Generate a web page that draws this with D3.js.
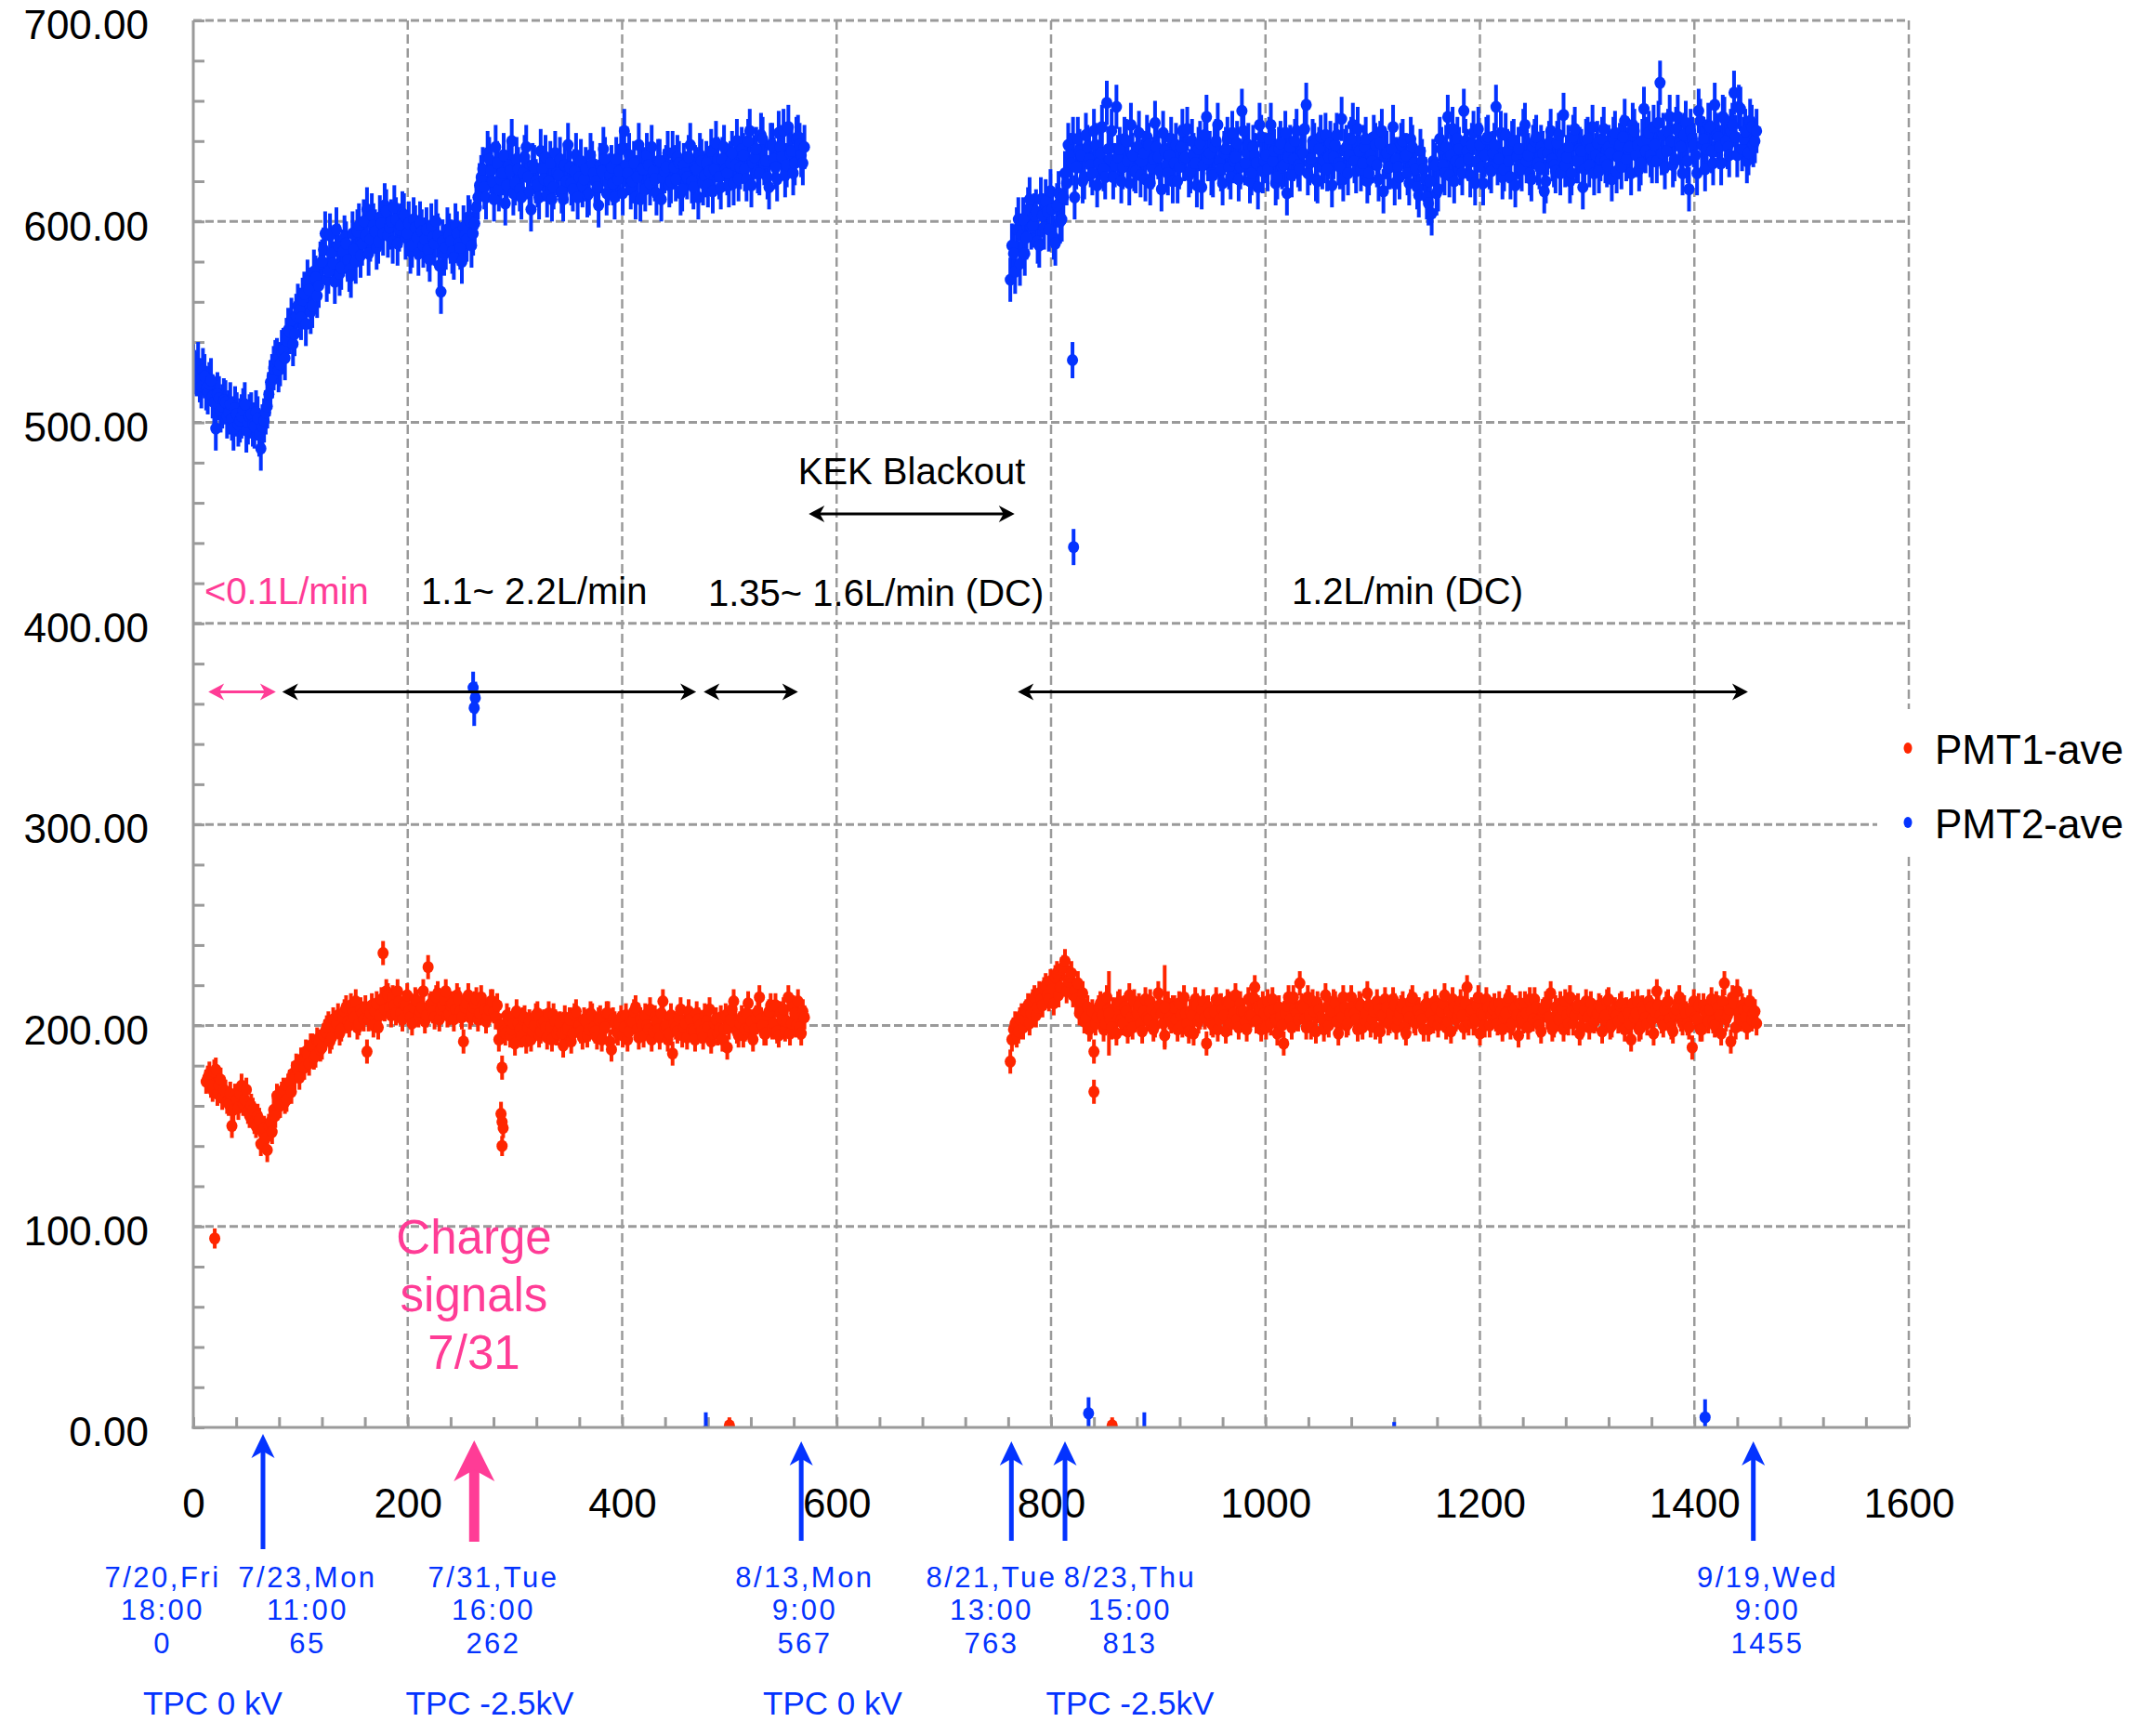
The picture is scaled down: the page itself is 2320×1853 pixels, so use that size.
<!DOCTYPE html>
<html>
<head>
<meta charset="utf-8">
<script src="https://cdn.jsdelivr.net/npm/d3@7"></script>
<style>
  html, body { margin: 0; padding: 0; background: #fff; }
  svg { display: block; }
  text { font-family: "Liberation Sans", Arial, Helvetica, sans-serif; }
</style>
</head>
<body>
<svg id="chart" width="2320" height="1853"></svg>
<script>
// Hours counted from 7/20 (Fri) 18:00. Averages come every 1.5 h; each run is
// listed as two interleaved lists (readings on the 3 h grid, and the ones 1.5 h later).
const sampleStep = 3;

// PMT2-ave, first running period
const pmt2FirstStart = 0;
const pmt2First = [
  528,524,521,526,517,519,513,497,512,508,
  510,505,502,507,499,503,509,500,504,498,
  502,487,501,508,520,527,531,529,536,541,
  545,539,553,556,561,549,566,558,572,568,
  580,594,575,584,570,588,577,592,581,573,
  586,595,583,600,606,591,598,587,602,594,
  605,597,590,601,596,604,592,599,588,597,
  584,595,591,586,598,589,593,565,584,596,
  590,582,594,587,597,591,600,594,607,618,
  626,612,631,620,637,616,624,609,628,640,
  619,626,612,632,622,606,627,618,635,621,
  613,629,617,624,631,611,620,627,616,633,
  622,618,626,614,629,620,608,625,631,619,
  627,612,621,636,645,624,617,629,622,611,
  626,633,619,625,614,630,622,627,618,634,
  621,629,616,624,632,620,627,612,630,623,
  618,635,626,631,617,637,624,629,619,640,
  627,633,621,645,629,636,624,641,630,617,
  638,627,644,632,623,647,635,629,642,633,
  637
];
const pmt2FirstMidStart = 1.5;
const pmt2FirstMid = [
  525,529,518,523,515,521,510,514,506,511,
  503,509,497,504,501,506,496,503,499,505,
  494,498,505,514,523,530,526,535,532,546,
  551,544,558,552,564,570,555,575,563,579,
  586,571,593,579,596,574,585,589,576,594,
  580,598,589,593,584,603,595,590,599,608,
  593,600,607,589,598,603,594,585,601,592,
  599,588,596,581,592,600,578,590,587,593,
  585,598,589,580,593,602,588,599,612,622,
  617,634,625,611,629,621,633,618,625,614,
  631,616,624,637,615,628,620,612,626,632,
  620,611,634,623,615,628,638,619,625,612,
  630,621,613,633,624,617,628,636,614,623,
  619,631,625,614,628,633,620,612,638,626,
  616,628,637,621,630,611,625,634,620,627,
  632,614,628,622,638,617,626,633,619,629,
  625,615,639,622,631,626,618,634,628,621,
  636,626,640,618,632,625,643,629,622,638,
  631,621,637,645,628,634,624,641,638,629
];

// PMT2-ave, after the KEK blackout
const pmt2SecondStart = 762;
const pmt2Second = [
  571,584,596,579,601,592,611,598,605,588,
  603,610,596,606,589,614,601,624,638,629,
  612,641,633,622,637,628,645,618,634,626,
  659,631,622,657,636,627,640,619,633,625,
  644,630,621,638,627,649,632,616,635,624,
  641,629,620,637,631,646,625,633,618,639,
  628,652,634,623,640,630,619,636,627,644,
  632,621,655,629,638,624,633,617,642,630,
  626,648,635,622,639,628,614,637,631,645,
  626,634,658,629,640,621,636,627,643,632,
  618,638,629,651,635,624,641,630,646,626,
  637,620,633,642,628,639,615,634,627,647,
  631,622,640,633,619,637,626,613,630,621,
  609,604,628,616,636,624,652,633,620,641,
  629,655,635,623,644,630,638,619,641,627,
  634,657,631,622,643,630,639,618,636,626,
  648,633,621,640,629,637,615,634,645,628,
  639,624,653,632,620,642,630,636,617,640,
  628,647,633,625,641,630,637,621,644,632,
  627,650,636,624,645,638,629,656,641,633,
  647,630,669,643,635,652,628,646,639,624,
  649,616,641,633,655,638,626,648,635,658,
  642,629,651,637,645,664,633,656,641,630,
  650,638,645
];
const pmt2SecondMidStart = 763.5;
const pmt2SecondMid = [
  588,575,601,593,584,606,597,603,590,611,
  597,605,615,592,608,600,612,619,633,641,
  627,635,620,643,631,624,638,629,647,622,
  636,645,628,632,620,641,630,648,626,637,
  623,634,642,619,631,637,625,644,628,633,
  620,638,627,645,632,623,640,629,636,617,
  643,631,624,637,648,626,634,641,622,630,
  639,627,645,634,620,637,629,648,625,633,
  641,630,619,636,627,644,632,623,640,628,
  635,646,624,631,638,620,642,630,626,639,
  632,643,627,621,637,633,648,625,635,629,
  641,624,630,638,621,645,632,627,636,619,
  627,638,632,624,641,629,617,635,626,612,
  620,630,614,641,628,637,623,646,630,636,
  624,640,631,638,619,646,627,633,642,625,
  638,629,644,626,635,622,640,632,628,645,
  630,624,637,642,627,634,620,639,631,625,
  643,633,628,637,624,646,630,635,626,641,
  636,624,639,631,646,628,634,641,625,638,
  642,631,637,648,633,626,640,635,644,630,
  638,649,634,627,645,640,631,652,637,643,
  630,645,638,624,650,641,636,647,629,643,
  637,652,640,633,648,642,657,636,645,634,
  647,640
];

// PMT1-ave, first running period
const pmt1FirstStart = 12;
const pmt1First = [
  172,176,168,178,170,164,167,161,150,165,
  159,170,163,157,160,152,155,141,149,138,
  152,158,165,160,168,163,172,176,180,174,
  183,187,181,190,185,192,189,197,201,194,
  199,205,198,207,202,210,204,199,208,203,
  187,206,200,211,205,236,217,209,214,206,
  212,203,210,207,201,213,205,209,202,229,
  211,204,216,208,213,205,210,203,215,207,
  192,211,204,209,213,206,210,202,208,212,
  204,193,179,196,203,198,191,201,195,204,
  199,193,200,206,197,202,194,199,205,196,
  201,190,198,203,196,207,200,194,202,198,
  205,197,203,193,199,206,188,201,196,204,
  199,193,202,207,198,203,195,200,208,197,
  202,194,212,200,196,186,199,204,195,201,
  207,198,193,203,197,205,199,192,201,196,
  204,198,189,203,212,197,201,195,206,199,
  193,204,214,200,196,207,199,210,195,203,
  198,214,201,206,212,196,204
];
const pmt1FirstMidStart = 13.5;
const pmt1FirstMid = [
  174,170,177,166,173,168,162,166,158,163,
  166,161,168,155,158,150,153,147,144,150,
  147,155,161,166,162,170,167,174,178,183,
  179,186,190,184,193,188,195,199,192,203,
  201,196,204,209,200,206,212,201,206,209,
  203,210,207,199,213,208,215,205,210,217,
  206,211,215,204,209,212,207,217,205,210,
  207,214,203,210,217,206,211,208,213,204,
  209,215,206,211,203,214,208,205,212,207,
  210,200,197,205,195,201,207,198,203,192,
  202,197,205,195,201,199,206,193,202,198,
  196,204,199,192,205,201,197,203,195,206,
  199,194,204,198,206,192,203,197,201,195,
  205,197,202,209,194,200,205,198,193,204,
  198,206,199,193,205,201,197,208,199,194,
  203,197,206,200,194,202,208,196,203,198,
  193,205,199,208,201,195,204,198,211,202,
  198,207,203,196,205,210,201,197,206,208,
  202,196,209,200,199,207
];

// PMT1-ave, after the KEK blackout
const pmt1SecondStart = 762;
const pmt1Second = [
  182,198,195,203,199,207,201,212,205,216,
  210,220,213,218,224,215,228,232,222,226,
  217,221,212,202,209,199,187,204,211,198,
  214,203,208,196,212,201,207,215,199,205,
  210,197,213,203,208,200,216,206,195,211,
  202,209,198,205,214,201,207,196,210,204,
  212,191,206,200,213,203,208,197,211,204,
  215,199,207,202,213,205,219,209,198,206,
  212,201,208,196,204,191,210,203,214,206,
  221,209,199,205,212,197,208,203,215,200,
  207,211,196,204,209,201,214,206,198,210,
  203,216,200,207,212,197,205,209,202,213,
  199,206,211,196,204,214,201,208,203,210,
  198,206,212,200,207,215,202,197,209,204,
  212,199,219,207,201,210,196,205,213,200,
  208,203,211,198,206,214,201,209,195,204,
  211,199,207,213,202,197,208,204,216,200,
  206,211,198,205,214,201,209,196,204,212,
  199,207,203,210,197,205,213,200,208,202,
  211,198,206,193,204,212,199,207,201,209,
  196,217,205,200,211,203,197,208,214,201,
  206,199,189,204,210,198,207,202,213,200,
  209,196,221,205,192,211,217,203,208,199,
  212,206,201
];
const pmt1SecondMidStart = 763.5;
const pmt1SecondMid = [
  193,201,197,205,203,210,206,214,209,213,
  218,215,222,211,226,219,229,217,224,215,
  213,206,216,204,198,207,201,209,205,201,
  208,199,206,211,203,209,197,204,212,206,
  201,207,204,212,198,206,210,201,208,204,
  209,203,211,200,206,197,205,213,202,208,
  204,209,201,207,198,210,205,212,201,206,
  203,211,207,198,205,214,202,208,211,199,
  207,213,203,209,200,206,214,199,208,203,
  210,203,214,199,207,211,204,198,209,205,
  212,202,207,214,200,206,209,203,211,199,
  206,210,203,199,208,205,213,201,206,210,
  203,209,199,207,212,202,208,205,198,211,
  206,202,209,204,211,199,207,213,203,208,
  205,211,201,208,203,214,206,200,209,205,
  210,201,207,204,212,199,208,205,211,202,
  206,213,203,209,200,207,211,204,198,209,
  203,208,212,201,207,205,210,199,208,204,
  211,202,206,209,203,212,199,207,205,210,
  204,208,201,211,206,198,209,204,212,203,
  207,210,202,208,212,199,206,211,203,209,
  201,207,212,203,198,210,205,208,202,211,
  205,212,203,208,214,199,206,210,204,209,
  203,207
];

// Typical statistical errors of the averages
const pmt2Error = 11;
const pmt1Error = 6;

// Isolated readings: [hour, value, error]
const pmt2Isolated = [
  [261,368,8],[263,363,8],[262,358,9],[820,531,9],[821,438,9],
  [478,-2,9.5],[835,7,8],[887,-3,10.5],[1120,-5,7.7],[1410,5,9]
];
const pmt1Isolated = [
  [20,94,5],[287,156,6],[288,152,6],[289,149,5],[288,140,5],
  [840,167,6],[854,206,21],[906,209,21],[500,1,4],[857,1,4]
];

// Axis ticks
const xTicks = [0,200,400,600,800,1000,1200,1400,1600];
const yTicks = [0,100,200,300,400,500,600,700];

// Gas-flow periods (hours) and the blackout
const flowSpans = [[14,77],[83,469],[476,564],[769,1450]];
const blackoutSpan = [574,766];

// Run events: hour, date, time, HV state
const eventHours = [0,65,262,567,763,813,1455];
const eventDates = ["7/20,Fri","7/23,Mon","7/31,Tue","8/13,Mon","8/21,Tue","8/23,Thu","9/19,Wed"];
const eventTimes = ["18:00","11:00","16:00","9:00","13:00","15:00","9:00"];
const hvLabels = ["TPC 0 kV","TPC -2.5kV","TPC 0 kV","TPC -2.5kV"];

const seriesNames = ["PMT1-ave","PMT2-ave"];

// ---------- drawing ----------
const BLUE = "#0433ff", RED = "#ff2600", PINK = "#ff3c96", GRID = "#9a9a9a";
const plotL = 208, plotR = 2054, plotT = 22, plotB = 1536;

const x = d3.scaleLinear().domain([0,1600]).range([plotL,plotR]);
const y = d3.scaleLinear().domain([0,700]).range([plotB,plotT]);

const svg = d3.select("#chart");
svg.append("rect").attr("width",2320).attr("height",1853).attr("fill","#fff");

svg.append("defs").append("clipPath").attr("id","plotClip")
  .append("rect").attr("x",plotL).attr("y",plotT).attr("width",plotR-plotL).attr("height",plotB-plotT);

// grid
const grid = svg.append("g");
grid.selectAll("line.h").data(yTicks.filter(v => v > 0)).join("line")
  .attr("class","h")
  .attr("x1",plotL).attr("x2",plotR)
  .attr("y1",d => y(d)).attr("y2",d => y(d))
  .attr("stroke",GRID).attr("stroke-width",3).attr("stroke-dasharray","9,4");
grid.selectAll("line.v").data(xTicks.filter(v => v > 0)).join("line")
  .attr("class","v")
  .attr("x1",d => x(d)).attr("x2",d => x(d))
  .attr("y1",plotT).attr("y2",plotB)
  .attr("stroke",GRID).attr("stroke-width",2.5).attr("stroke-dasharray","10,5");

// minor ticks pointing into the plot
const yMinor = d3.axisRight(y).tickValues(d3.range(0,701,20)).tickSize(12).tickFormat("");
svg.append("g").attr("transform",`translate(${plotL},0)`).call(yMinor)
  .call(g => g.select(".domain").remove())
  .call(g => g.selectAll("line").attr("stroke",GRID).attr("stroke-width",3));
const xMinor = d3.axisTop(x).tickValues(d3.range(0,1601,40)).tickSize(11).tickFormat("");
svg.append("g").attr("transform",`translate(0,${plotB})`).call(xMinor)
  .call(g => g.select(".domain").remove())
  .call(g => g.selectAll("line").attr("stroke",GRID).attr("stroke-width",3));

// axis labels
const yAxis = d3.axisLeft(y).tickValues(yTicks).tickFormat(d3.format(".2f")).tickSize(0).tickPadding(48);
svg.append("g").attr("transform",`translate(${plotL},0)`).call(yAxis)
  .call(g => g.select(".domain").remove())
  .call(g => g.selectAll("text").attr("font-size",44).attr("fill","#000")
      .attr("dy","0.45em").style("font-family",'"Liberation Sans", Arial, sans-serif'));
const xAxis = d3.axisBottom(x).tickValues(xTicks).tickFormat(d3.format("d")).tickSize(0).tickPadding(66);
svg.append("g").attr("transform",`translate(0,${plotB})`).call(xAxis)
  .call(g => g.select(".domain").remove())
  .call(g => g.selectAll("text").attr("font-size",44).attr("fill","#000")
      .style("font-family",'"Liberation Sans", Arial, sans-serif'));

// data
function runPoints(start, values, err) {
  return values.map((v,i) => ({h: start + i*sampleStep, v: v, e: err}));
}
function isolated(rows) {
  return rows.map(r => ({h: r[0], v: r[1], e: r[2]}));
}
function interleave(a, b) {
  const out = [];
  for (let i = 0; i < Math.max(a.length, b.length); i++) {
    if (i < a.length) out.push(a[i]);
    if (i < b.length) out.push(b[i]);
  }
  return out;
}
const pmt2Points = interleave(runPoints(pmt2FirstStart, pmt2First, pmt2Error), runPoints(pmt2FirstMidStart, pmt2FirstMid, pmt2Error))
  .concat(interleave(runPoints(pmt2SecondStart, pmt2Second, pmt2Error), runPoints(pmt2SecondMidStart, pmt2SecondMid, pmt2Error)),
          isolated(pmt2Isolated));
const pmt1Points = interleave(runPoints(pmt1FirstStart, pmt1First, pmt1Error), runPoints(pmt1FirstMidStart, pmt1FirstMid, pmt1Error))
  .concat(interleave(runPoints(pmt1SecondStart, pmt1Second, pmt1Error), runPoints(pmt1SecondMidStart, pmt1SecondMid, pmt1Error)),
          isolated(pmt1Isolated));

const plot = svg.append("g").attr("clip-path","url(#plotClip)");
function drawSeries(points, color) {
  const g = plot.append("g");
  g.selectAll("line").data(points).join("line")
    .attr("x1",d => x(d.h)).attr("x2",d => x(d.h))
    .attr("y1",d => y(d.v - d.e)).attr("y2",d => y(d.v + d.e))
    .attr("stroke",color).attr("stroke-width",4);
  g.selectAll("ellipse").data(points).join("ellipse")
    .attr("cx",d => x(d.h)).attr("cy",d => y(d.v))
    .attr("rx",6).attr("ry",6.5).attr("fill",color);
}
drawSeries(pmt2Points, BLUE);
drawSeries(pmt1Points, RED);

// axes lines
svg.append("line").attr("x1",plotL).attr("x2",plotL).attr("y1",plotT).attr("y2",plotB+1.5)
  .attr("stroke",GRID).attr("stroke-width",3);
svg.append("line").attr("x1",plotL-1.5).attr("x2",plotR).attr("y1",plotB).attr("y2",plotB)
  .attr("stroke",GRID).attr("stroke-width",3);

// legend
const legend = svg.append("g");
legend.append("rect").attr("x",2020).attr("y",763).attr("width",300).attr("height",159).attr("fill","#fff");
const legendColors = [RED, BLUE];
const legendY = [805, 885];
seriesNames.forEach((name,i) => {
  legend.append("ellipse").attr("cx",2053).attr("cy",legendY[i]).attr("rx",4.5).attr("ry",6).attr("fill",legendColors[i]);
  legend.append("text").attr("x",2082).attr("y",legendY[i] + 17).attr("font-size",44).attr("fill","#000").text(name);
});

// horizontal double arrows
function hArrow(x1, x2, yy, color) {
  const g = svg.append("g");
  g.append("line").attr("x1",x1 + 6).attr("x2",x2 - 6).attr("y1",yy).attr("y2",yy)
    .attr("stroke",color).attr("stroke-width",3);
  const head = (tip, dir) => `M${tip},${yy} L${tip - dir*17},${yy - 9} L${tip - dir*12},${yy} L${tip - dir*17},${yy + 9} Z`;
  g.append("path").attr("d",head(x2, 1)).attr("fill",color);
  g.append("path").attr("d",head(x1, -1)).attr("fill",color);
}
const flowY = y(366);
hArrow(x(flowSpans[0][0]), x(flowSpans[0][1]), flowY, PINK);
flowSpans.slice(1).forEach(s => hArrow(x(s[0]), x(s[1]), flowY, "#000"));
hArrow(x(blackoutSpan[0]), x(blackoutSpan[1]), y(454.5), "#000");

// flow annotations
const ann = svg.append("g").attr("font-size",40);
ann.append("text").attr("x",220).attr("y",650).attr("fill",PINK).text("<0.1L/min");
ann.append("text").attr("x",453).attr("y",650).attr("fill","#000").text("1.1~ 2.2L/min");
ann.append("text").attr("x",762).attr("y",652).attr("fill","#000").text("1.35~ 1.6L/min (DC)");
ann.append("text").attr("x",1390).attr("y",650).attr("fill","#000").text("1.2L/min (DC)");
ann.append("text").attr("x",981).attr("y",521).attr("text-anchor","middle").attr("fill","#000").text("KEK Blackout");

// charge signal note
const note = svg.append("g").attr("font-size",51).attr("fill",PINK).attr("text-anchor","middle");
["Charge","signals","7/31"].forEach((t,i) => note.append("text").attr("x",510).attr("y",1349 + i*62).text(t));

// event arrows under the axis
function vArrow(xx, tipY, baseY, color, w, headW, headL) {
  const g = svg.append("g");
  g.append("line").attr("x1",xx).attr("x2",xx).attr("y1",tipY + headL*0.6).attr("y2",baseY)
    .attr("stroke",color).attr("stroke-width",w);
  g.append("path")
    .attr("d",`M${xx},${tipY} L${xx - headW/2},${tipY + headL} L${xx},${tipY + headL*0.72} L${xx + headW/2},${tipY + headL} Z`)
    .attr("fill",color);
}
eventHours.forEach((h,i) => {
  if (i === 0) return;
  if (h === 262) vArrow(x(h), 1550, 1659, PINK, 11, 44, 44);
  else vArrow(x(h), i === 1 ? 1543 : 1551, i === 1 ? 1667 : 1658, BLUE, 5, 25, 26);
});

// event captions
const captionX = [175, 331, 531, 866, 1067, 1216, 1902];
const cap = svg.append("g").attr("font-size",31).attr("fill",BLUE).attr("text-anchor","middle").attr("letter-spacing",2.5);
eventHours.forEach((h,i) => {
  cap.append("text").attr("x",captionX[i]).attr("y",1708).text(eventDates[i]);
  cap.append("text").attr("x",captionX[i]).attr("y",1743).text(eventTimes[i]);
  cap.append("text").attr("x",captionX[i]).attr("y",1779).text(h);
});
const hvX = [229, 527, 896, 1216];
const hv = svg.append("g").attr("font-size",35).attr("fill",BLUE).attr("text-anchor","middle");
hvLabels.forEach((t,i) => hv.append("text").attr("x",hvX[i]).attr("y",1845).text(t));
</script>
</body>
</html>
